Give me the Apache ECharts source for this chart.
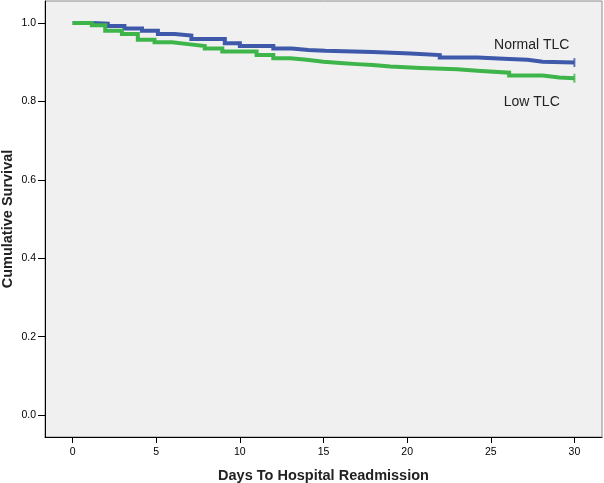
<!DOCTYPE html>
<html>
<head>
<meta charset="utf-8">
<script src="https://cdn.jsdelivr.net/npm/echarts@6/dist/echarts.min.js"></script>
<style>
html,body{margin:0;padding:0;background:#fff;}
#c{width:604px;height:483px;}
</style>
</head>
<body>
<div id="c"></div>
<script>
// Kaplan-Meier step data (day at which the survival drops, survival after the drop)
const normalDays = [0, 1.15, 2.1, 3.1, 4.15, 5.1, 6.1, 7.1, 9.1, 10.0, 12.0, 13.1, 14.1, 15.1, 17.95, 20.2, 21.95, 24.2, 26.1, 27.2, 28.1, 30];
const normalSurv = [1.0, 0.998, 0.992, 0.986, 0.980, 0.972, 0.968, 0.959, 0.948, 0.941, 0.935, 0.931, 0.929, 0.926, 0.922, 0.918, 0.912, 0.908, 0.906, 0.901, 0.899, 0.899];

const lowDays = [0, 1.15, 1.95, 2.95, 3.9, 4.9, 5.95, 6.9, 7.9, 8.95, 11.0, 12.0, 13.0, 14.0, 15.0, 16.0, 17.0, 17.95, 19.0, 20.8, 23.0, 24.2, 26.1, 28.1, 29.1, 30];
const lowSurv = [1.0, 0.994, 0.980, 0.972, 0.957, 0.951, 0.946, 0.941, 0.935, 0.927, 0.918, 0.910, 0.906, 0.901, 0.898, 0.895, 0.893, 0.889, 0.885, 0.882, 0.878, 0.873, 0.866, 0.861, 0.859, 0.859];

const seriesNames = ['Normal TLC', 'Low TLC'];
const xTicks = [0, 5, 10, 15, 20, 25, 30];
const yTicks = [0.0, 0.2, 0.4, 0.6, 0.8, 1.0];
const censorDay = 30;
// label anchor positions in data space
const labelPos = [[27.45, 0.943], [27.45, 0.797]];

const blue = '#3e58aa';
const green = '#3db54a';

const zip = (a, b) => a.map((v, i) => [v, b[i]]);

const chart = echarts.init(document.getElementById('c'), null, {renderer: 'canvas'});
const labelStyle = {fontFamily: 'Liberation Sans, Arial, sans-serif', fontSize: 14, color: '#222'};

chart.setOption({
  animation: false,
  backgroundColor: '#ffffff',
  grid: {
    left: 45, right: 2, top: 1, bottom: 46,
    containLabel: false, outerBoundsMode: 'none',
    show: true, backgroundColor: '#f0f0f0', borderColor: '#8a8a8a', borderWidth: 1
  },
  xAxis: {
    type: 'value', min: -1.65, max: 31.65,
    name: 'Days To Hospital Readmission', nameLocation: 'middle', nameGap: 31, nameMoveOverlap: false,
    nameTextStyle: {fontFamily: 'Liberation Sans, Arial, sans-serif', fontSize: 14.5, fontWeight: 'bold', color: '#222'},
    axisLine: {show: true, onZero: false, lineStyle: {color: '#000', width: 1}},
    axisTick: {show: true, length: 6, customValues: xTicks, lineStyle: {color: '#000'}},
    axisLabel: {customValues: xTicks, margin: 10, fontFamily: 'Liberation Sans, Arial, sans-serif', fontSize: 10.5, color: '#000'},
    splitLine: {show: false}
  },
  yAxis: {
    type: 'value', min: -0.056, max: 1.056,
    name: 'Cumulative Survival', nameLocation: 'middle', nameGap: 30, nameMoveOverlap: false,
    nameTextStyle: {fontFamily: 'Liberation Sans, Arial, sans-serif', fontSize: 14.5, fontWeight: 'bold', color: '#222'},
    axisLine: {show: true, onZero: false, lineStyle: {color: '#000', width: 1}},
    axisTick: {show: true, length: 7, customValues: yTicks, lineStyle: {color: '#000'}},
    axisLabel: {customValues: yTicks, margin: 9, formatter: v => v.toFixed(1), fontFamily: 'Liberation Sans, Arial, sans-serif', fontSize: 10.5, color: '#000'},
    splitLine: {show: false}
  },
  series: [
    {
      name: seriesNames[0], type: 'line', step: 'end', symbol: 'none',
      data: zip(normalDays, normalSurv),
      lineStyle: {color: blue, width: 4, cap: 'butt', join: 'miter'},
      markPoint: {
        symbol: 'circle', symbolSize: 0,
        data: [{coord: labelPos[0], label: {show: true, formatter: seriesNames[0], ...labelStyle}}]
      },
      z: 2
    },
    {
      name: seriesNames[1], type: 'line', step: 'end', symbol: 'none',
      data: zip(lowDays, lowSurv),
      lineStyle: {color: green, width: 4, cap: 'butt', join: 'miter'},
      markPoint: {
        symbol: 'circle', symbolSize: 0,
        data: [{coord: labelPos[1], label: {show: true, formatter: seriesNames[1], ...labelStyle}}]
      },
      z: 3
    },
    {
      type: 'scatter', symbol: 'rect', symbolSize: [2, 9],
      data: [[censorDay, normalSurv[normalSurv.length - 1]]],
      itemStyle: {color: blue}, z: 4
    },
    {
      type: 'scatter', symbol: 'rect', symbolSize: [2, 9],
      data: [[censorDay, lowSurv[lowSurv.length - 1]]],
      itemStyle: {color: green}, z: 4
    }
  ]
});
</script>
</body>
</html>
